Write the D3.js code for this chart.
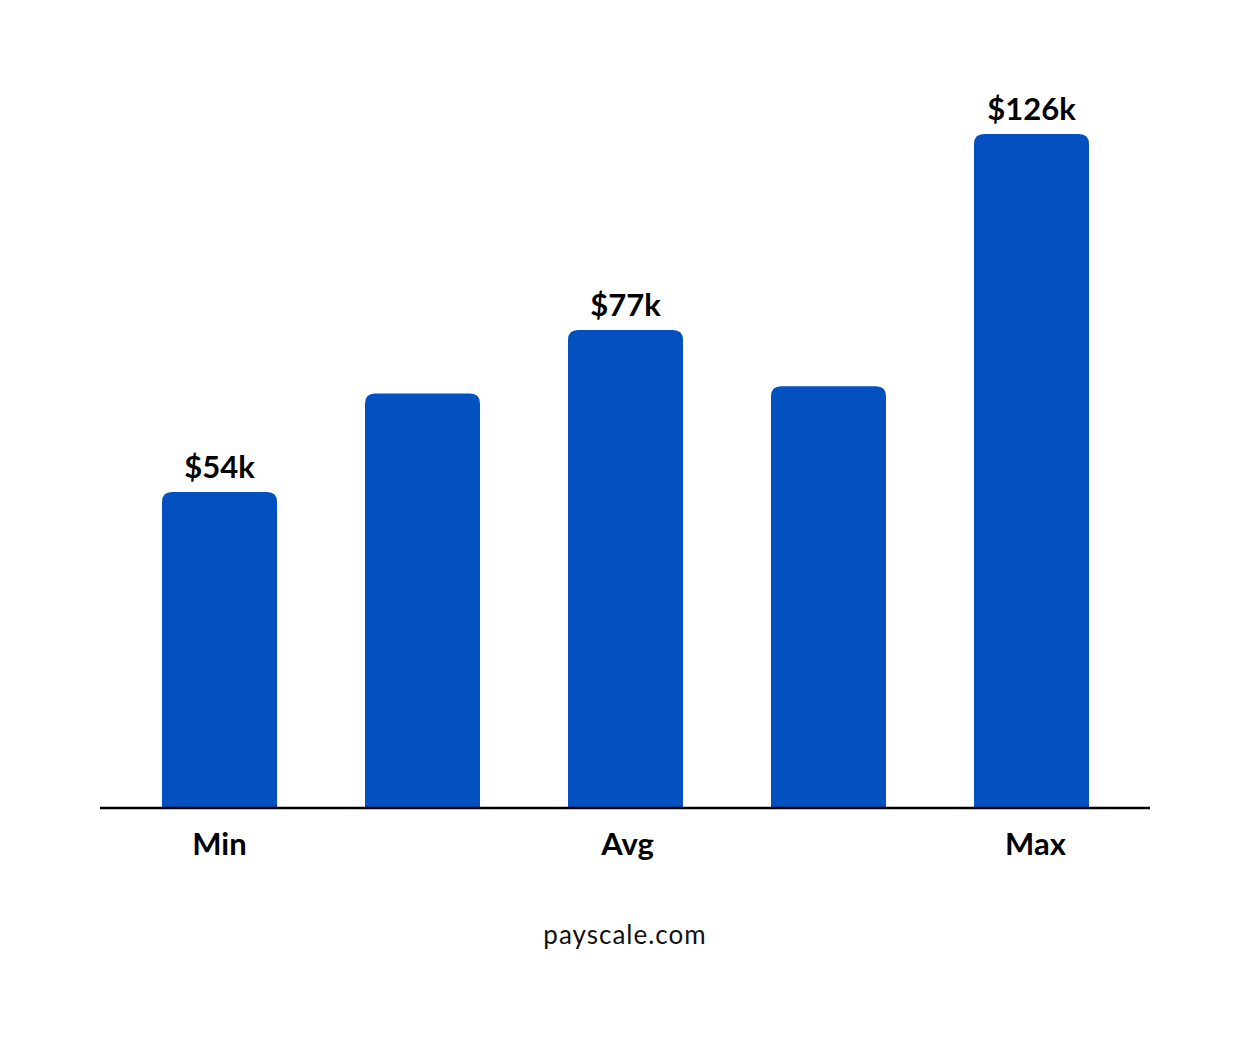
<!DOCTYPE html>
<html><head><meta charset="utf-8">
<script src="https://cdn.jsdelivr.net/npm/d3@7"></script>
<style>body{margin:0;background:#fff}text{font-family:Lato,"Open Sans",sans-serif}</style>
</head><body><div id="chart"></div>
<script>
// bar values in $k (unlabelled bars)
var values = [54, 68, 77, 69, 126];
var valueLabels = ["$54k", "", "$77k", "", "$126k"];
var axisLabels = ["Min", "", "Avg", "", "Max"];
var source = "payscale.com";

var W = 1250, H = 1043, base = 808;
var svg = d3.select("#chart").append("svg").attr("width", W).attr("height", H);

var x = d3.scaleBand().domain(d3.range(values.length)).range([162, 1089]).paddingInner(88 / 203).paddingOuter(0);
// graphic's own (non-linear) height mapping
var h = d3.scaleLinear().domain([0, 54, 77, 126]).range([0, 316, 478, 674]);

function barPath(x0, w, top, r) {
    return "M" + x0 + "," + base + "V" + (top + r) + "Q" + x0 + "," + top + " " + (x0 + r) + "," + top +
        "H" + (x0 + w - r) + "Q" + (x0 + w) + "," + top + " " + (x0 + w) + "," + (top + r) + "V" + base + "Z";
}

svg.selectAll("path.bar").data(values).enter().append("path").attr("class", "bar")
    .attr("d", (d, i) => barPath(x(i), x.bandwidth(), base - h(d), 10))
    .attr("fill", "#0351C1");

svg.append("line").attr("x1", 100).attr("x2", 1150).attr("y1", base).attr("y2", base)
    .attr("stroke", "#000").attr("stroke-width", 2.5);

svg.selectAll("text.val").data(values).enter().append("text").attr("class", "val")
    .attr("x", (d, i) => x(i) + x.bandwidth() / 2)
    .attr("y", d => base - h(d) - 14)
    .attr("text-anchor", "middle").attr("font-size", 31).attr("font-weight", 700)
    .text((d, i) => valueLabels[i]);

svg.selectAll("text.cat").data(axisLabels).enter().append("text").attr("class", "cat")
    .attr("x", (d, i) => x(i) + x.bandwidth() / 2 + (i === 4 ? 4 : i === 2 ? 2 : 0))
    .attr("y", 855)
    .attr("text-anchor", "middle").attr("font-size", 31).attr("font-weight", 700)
    .text(d => d);

svg.append("text").attr("x", 625).attr("y", 944).attr("text-anchor", "middle")
    .attr("font-size", 26).attr("fill", "#111").attr("letter-spacing", 1).text(source);
</script></body></html>
